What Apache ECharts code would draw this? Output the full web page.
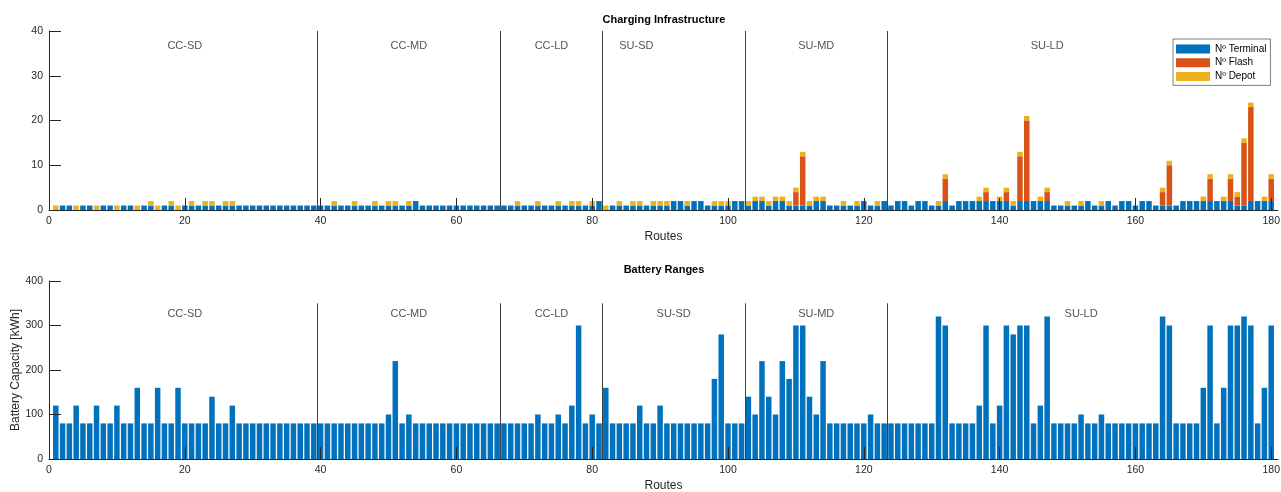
<!DOCTYPE html>
<html><head><meta charset="utf-8">
<script src="https://cdn.jsdelivr.net/npm/echarts@6/dist/echarts.min.js"></script>
<style>html,body{margin:0;padding:0;background:#fff}#c{width:1281px;height:492px}</style>
</head><body><div id="c"></div>
<script>
// ---- data ----
const nRoutes = 180;
const routes = Array.from({length: nRoutes}, (_, i) => i + 1);
const xTicks = [0, 20, 40, 60, 80, 100, 120, 140, 160, 180];
const groupNames = ['CC-SD', 'CC-MD', 'CC-LD', 'SU-SD', 'SU-MD', 'SU-LD'];
const groupBounds = [39.5, 66.5, 81.5, 102.5, 123.5];
const topLabelX = [20, 53, 74, 86.5, 113, 147];
const bottomLabelX = [20, 53, 74, 92, 113, 152];

const terminal = [
 0,1,1,0,1,1,0,1,1,0,
 1,1,0,1,1,0,1,1,0,1,
 1,1,1,1,1,1,1,1,1,1,
 1,1,1,1,1,1,1,1,1,1,
 1,1,1,1,1,1,1,1,1,1,
 1,1,1,2,1,1,1,1,1,1,
 1,1,1,1,1,1,1,1,1,1,
 1,1,1,1,1,1,1,1,1,1,
 2,0,1,1,1,1,1,1,1,1,
 1,2,2,1,2,2,1,1,1,1,
 2,2,1,2,2,1,2,2,1,1,
 1,1,2,2,1,1,1,1,1,2,
 1,1,2,1,2,2,1,2,2,1,
 1,2,1,2,2,2,2,2,2,2,
 2,1,2,2,2,2,2,1,1,1,
 1,1,2,1,1,2,1,2,2,1,
 2,2,1,1,1,1,2,2,2,2,
 2,2,2,2,1,1,2,2,2,2
];
const flash = [
 0,0,0,0,0,0,0,0,0,0,
 0,0,0,0,0,0,0,0,0,0,
 0,0,0,0,0,0,0,0,0,0,
 0,0,0,0,0,0,0,0,0,0,
 0,0,0,0,0,0,0,0,0,0,
 0,0,0,0,0,0,0,0,0,0,
 0,0,0,0,0,0,0,0,0,0,
 0,0,0,0,0,0,0,0,0,0,
 0,0,0,0,0,0,0,0,0,0,
 0,0,0,0,0,0,0,0,0,0,
 0,0,0,0,0,0,0,0,0,3,
 11,0,0,0,0,0,0,0,0,0,
 0,0,0,0,0,0,0,0,0,0,
 0,5,0,0,0,0,0,2,0,0,
 2,0,10,18,0,0,2,0,0,0,
 0,0,0,0,0,0,0,0,0,0,
 0,0,0,3,9,0,0,0,0,0,
 5,0,0,5,2,14,21,0,0,5
];
const depot = [
 1,0,0,1,0,0,1,0,0,1,
 0,0,1,0,1,1,0,1,1,0,
 1,0,1,1,0,1,1,0,0,0,
 0,0,0,0,0,0,0,0,0,0,
 0,1,0,0,1,0,0,1,0,1,
 1,0,1,0,0,0,0,0,0,0,
 0,0,0,0,0,0,0,0,1,0,
 0,1,0,0,1,0,1,1,0,1,
 0,1,0,1,0,1,1,0,1,1,
 1,0,0,1,0,0,0,1,1,1,
 0,0,1,1,1,1,1,1,1,1,
 1,1,1,1,0,0,1,0,1,0,
 0,1,0,0,0,0,0,0,0,0,
 1,1,0,0,0,0,1,1,0,1,
 1,1,1,1,0,1,1,0,0,1,
 0,1,0,0,1,0,0,0,0,0,
 0,0,0,1,1,0,0,0,0,1,
 1,0,1,1,1,1,1,0,1,1
];
const battery = [
 120,80,80,120,80,80,120,80,80,120,
 80,80,160,80,80,160,80,80,160,80,
 80,80,80,140,80,80,120,80,80,80,
 80,80,80,80,80,80,80,80,80,80,
 80,80,80,80,80,80,80,80,80,100,
 220,80,100,80,80,80,80,80,80,80,
 80,80,80,80,80,80,80,80,80,80,
 80,100,80,80,100,80,120,300,80,100,
 80,160,80,80,80,80,120,80,80,120,
 80,80,80,80,80,80,80,180,280,80,
 80,80,140,100,220,140,100,220,180,300,
 300,140,100,220,80,80,80,80,80,80,
 100,80,80,80,80,80,80,80,80,80,
 320,300,80,80,80,80,120,300,80,120,
 300,280,300,300,80,120,320,80,80,80,
 80,100,80,80,100,80,80,80,80,80,
 80,80,80,320,300,80,80,80,80,160,
 300,80,160,300,300,320,300,80,160,300
];

// ---- chart ----
const AX = '#262626';
const FONT = 'Liberation Sans, Arial, Helvetica, sans-serif';
const X_MAX = 181;
// category slots 0..181 so that slot n sits at value n on the visible value axis
const slots = Array.from({length: X_MAX + 1}, (_, i) => String(i));
const pairs = arr => routes.map((r, i) => [r, arr[i]]);

function catAxis(gi) {
  return {type: 'category', gridIndex: gi, position: 'bottom', data: slots, boundaryGap: false, show: false};
}
function valXAxis(gi) {
  return {
    type: 'value', gridIndex: gi, position: 'bottom', min: 0, max: X_MAX, interval: 20,
    name: 'Routes', nameLocation: 'middle', nameGap: 21, nameMoveOverlap: false,
    nameTextStyle: {fontSize: 12, color: AX, fontFamily: FONT},
    axisLine: {onZero: false, lineStyle: {color: AX, width: 1}},
    axisTick: {inside: true, length: 12, customValues: xTicks, lineStyle: {color: AX, width: 1}},
    axisLabel: {customValues: xTicks, margin: 6, fontSize: 10.5, color: AX, fontFamily: FONT},
    splitLine: {show: false}, z: 3
  };
}
function yAxis(gi, max, interval, name) {
  return {
    type: 'value', gridIndex: gi, position: 'left', min: 0, max: max, interval: interval,
    name: name || '', nameLocation: 'middle', nameGap: 27, nameRotate: 90, nameMoveOverlap: false,
    nameTextStyle: {fontSize: 12, color: AX, fontFamily: FONT},
    axisLine: {show: true, lineStyle: {color: AX, width: 1}},
    axisTick: {show: true, inside: true, length: 12, lineStyle: {color: AX, width: 1}},
    axisLabel: {margin: 6, fontSize: 10.5, color: AX, fontFamily: FONT},
    splitLine: {show: false}, z: 3
  };
}
function labelsAndDividers(xi, yi, xs, y, top) {
  return {
    type: 'scatter', xAxisIndex: xi, yAxisIndex: yi, silent: true,
    symbolSize: 1, itemStyle: {color: 'rgba(0,0,0,0)'}, z: 5,
    data: xs.map((x, i) => ({value: [x, y], name: groupNames[i]})),
    label: {show: true, position: 'inside', formatter: p => p.name,
      fontSize: 11, color: AX, fontFamily: FONT},
    markLine: {
      silent: true, symbol: ['none', 'none'], animation: false,
      label: {show: false},
      lineStyle: {color: '#404040', width: 1, type: 'solid'},
      data: groupBounds.map(b => [{coord: [b, 0]}, {coord: [b, top]}])
    }
  };
}
const BW = 5.5;

const chart = echarts.init(document.getElementById('c'), null, {renderer: 'canvas'});
chart.setOption({
  animation: false,
  backgroundColor: '#fff',
  textStyle: {fontFamily: FONT},
  graphic: [
    {type: 'text', x: 664, y: 19.5, style: {text: 'Charging Infrastructure', align: 'center', verticalAlign: 'middle', font: 'bold 11px ' + FONT, fill: '#000'}},
    {type: 'text', x: 664, y: 270, style: {text: 'Battery Ranges', align: 'center', verticalAlign: 'middle', font: 'bold 11px ' + FONT, fill: '#000'}}
  ],
  legend: {
    data: ['Nº Terminal', 'Nº Flash', 'Nº Depot'],
    orient: 'vertical', left: 1173, top: 39,
    itemWidth: 34, itemHeight: 9, itemGap: 1.7, icon: 'rect',
    padding: [4, 4, 3, 3],
    borderColor: AX, borderWidth: 0.6, backgroundColor: '#fff',
    textStyle: {fontSize: 10, lineHeight: 12, color: '#000', fontFamily: FONT},
    selectedMode: false
  },
  grid: [
    {left: 49, top: 31, height: 179, width: 1229, outerBoundsMode: 'none', containLabel: false},
    {left: 49, top: 281, height: 178, width: 1229, outerBoundsMode: 'none', containLabel: false}
  ],
  xAxis: [catAxis(0), valXAxis(0), catAxis(1), valXAxis(1)],
  yAxis: [yAxis(0, 40, 10), yAxis(1, 400, 100, 'Battery Capacity [kWh]')],
  series: [
    {name: 'Nº Terminal', type: 'bar', stack: 'infra', xAxisIndex: 0, yAxisIndex: 0,
     barWidth: BW, itemStyle: {color: '#0072BD'}, data: pairs(terminal)},
    {name: 'Nº Flash', type: 'bar', stack: 'infra', xAxisIndex: 0, yAxisIndex: 0,
     barWidth: BW, itemStyle: {color: '#D95319'}, data: pairs(flash)},
    {name: 'Nº Depot', type: 'bar', stack: 'infra', xAxisIndex: 0, yAxisIndex: 0,
     barWidth: BW, itemStyle: {color: '#EDB120'}, data: pairs(depot)},
    labelsAndDividers(1, 0, topLabelX, 36.6, 40),
    {name: 'Battery', type: 'bar', xAxisIndex: 2, yAxisIndex: 1,
     barWidth: BW, itemStyle: {color: '#0072BD'}, data: pairs(battery)},
    labelsAndDividers(3, 1, bottomLabelX, 327, 350)
  ]
});
</script></body></html>
